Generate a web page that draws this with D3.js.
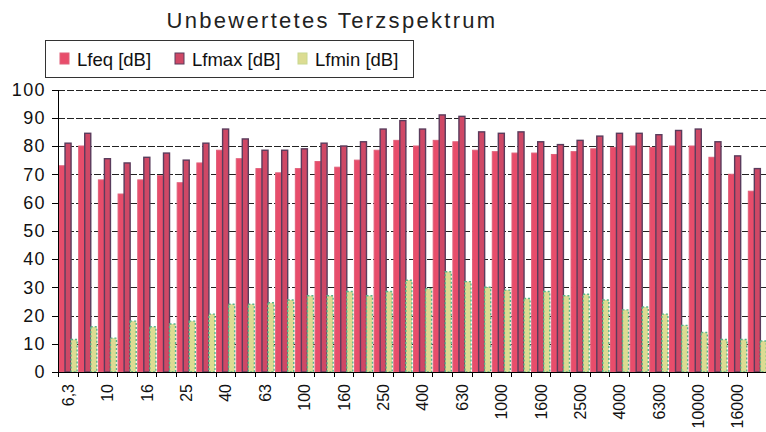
<!DOCTYPE html>
<html lang="de">
<head>
<meta charset="UTF-8">
<title>Unbewertetes Terzspektrum</title>
<script src="https://cdnjs.cloudflare.com/ajax/libs/d3/7.8.5/d3.min.js"></script>
<style>
    body { margin: 0; background: #fff; }
    svg { display: block; font-family: "Liberation Sans", Arial, sans-serif; }
    .grid line { stroke: #222; stroke-dasharray: 7 2; shape-rendering: crispEdges; }
    .axis path, .axis line { stroke: #000; shape-rendering: crispEdges; }
</style>
</head>
<body>
<script>
    // Terzbänder (Hz)
    var bands = ["6,3", "8", "10", "12,5", "16", "20", "25", "31,5", "40", "50", "63", "80",
        "100", "125", "160", "200", "250", "315", "400", "500", "630", "800", "1000", "1250",
        "1600", "2000", "2500", "3150", "4000", "5000", "6300", "8000", "10000", "12500", "16000", "20000"];

    var lfeq = [73, 80, 68, 63, 68, 69.5, 67, 74, 78.5, 75.5, 72, 70.5,
        72, 74.5, 72.5, 75, 78.5, 82, 80, 82, 81.5, 78.5, 78, 77.5,
        77.5, 77, 78, 79, 79.5, 80, 79.5, 80, 80, 76, 70, 64];

    var lfmax = [81, 84.5, 75.5, 74, 76, 77.5, 75, 81, 86, 82.5, 78.5, 78.5,
        79, 81, 80, 81.5, 86, 89, 86, 91, 90.5, 85, 84.5, 85,
        81.5, 80.5, 82, 83.5, 84.5, 84.5, 84, 85.5, 86, 81.5, 76.5, 72];

    var lfmin = [11.5, 16, 12, 18, 16, 17, 18, 20.5, 24, 24, 24.5, 25.5,
        27, 27, 28.5, 27, 28.5, 32.5, 29.5, 35.5, 32, 30, 29, 26,
        28.5, 27, 27.5, 25.5, 22, 23, 20.5, 16.5, 14, 11.5, 11.5, 11];

    var series = ["Lfeq [dB]", "Lfmax [dB]", "Lfmin [dB]"];
    var yTicks = [0, 10, 20, 30, 40, 50, 60, 70, 80, 90, 100];

    var W = 766, H = 432;
    var plot = { left: 58, right: 767, top: 89.5, bottom: 372 };

    var fills = ["#e84d6b", "#cf4866", "#dcdc92"];
    var strokes = ["#e0607a", "#5a3c5c", "#56b48c"];

    var svg = d3.select("body").append("svg")
        .attr("width", W)
        .attr("height", H);

    var x = d3.scaleBand().domain(bands).range([plot.left, plot.right]).padding(0);
    var inner = d3.scaleBand().domain(series).range([1, x.bandwidth() - 0.6]).padding(0);
    var y = d3.scaleLinear().domain([0, 100]).range([plot.bottom, plot.top]);

    // gridlines
    svg.append("g").attr("class", "grid")
        .selectAll("line")
        .data(yTicks.slice(1))
        .enter().append("line")
        .attr("x1", plot.left).attr("x2", W)
        .attr("y1", function(d) { return Math.round(y(d)) + 0.5; })
        .attr("y2", function(d) { return Math.round(y(d)) + 0.5; });

    var rows = bands.map(function(b, i) {
        return { band: b, values: [lfeq[i], lfmax[i], lfmin[i]] };
    });

    var groups = svg.append("g").selectAll("g")
        .data(rows)
        .enter().append("g")
        .attr("transform", function(d) { return "translate(" + x(d.band) + ",0)"; });

    groups.selectAll("rect")
        .data(function(d) {
            return d.values.map(function(v, k) { return { s: series[k], k: k, v: v }; });
        })
        .enter().append("rect")
        .attr("x", function(d) { return inner(d.s); })
        .attr("width", inner.bandwidth())
        .attr("y", function(d) { return y(d.v); })
        .attr("height", function(d) { return plot.bottom - y(d.v); })
        .attr("fill", function(d) { return fills[d.k]; })
        .attr("stroke", function(d) { return strokes[d.k]; })
        .attr("stroke-width", function(d) { return d.k === 0 ? 1 : 1.4; })
        .attr("stroke-dasharray", function(d) { return d.k === 2 ? "2 2" : null; });

    // y axis
    var yAxis = d3.axisLeft(y).tickValues(yTicks).tickSize(6).tickSizeOuter(0);
    svg.append("g").attr("class", "axis")
        .attr("transform", "translate(" + plot.left + ",0)")
        .call(yAxis)
        .call(function(g) {
            g.selectAll("text")
                .attr("x", -12)
                .style("font-size", "18px")
                .style("letter-spacing", "1.4px")
                .attr("fill", "#111");
        });

    // x axis line + ticks at band borders
    svg.append("line")
        .attr("x1", plot.left).attr("x2", W)
        .attr("y1", plot.bottom + 0.5).attr("y2", plot.bottom + 0.5)
        .attr("stroke", "#000");

    var borders = bands.map(function(b) { return x(b); }).concat([plot.right]);
    svg.append("g").selectAll("line")
        .data(borders)
        .enter().append("line")
        .attr("x1", function(d) { return Math.round(d) + 0.5; })
        .attr("x2", function(d) { return Math.round(d) + 0.5; })
        .attr("y1", plot.bottom).attr("y2", plot.bottom + 5)
        .attr("stroke", "#000");

    svg.append("g").selectAll("text")
        .data(bands.filter(function(b, i) { return i % 2 === 0; }))
        .enter().append("text")
        .attr("transform", function(d) {
            return "translate(" + (x(d) + x.bandwidth() / 2 + 6) + "," + (plot.bottom + 12) + ") rotate(-90)";
        })
        .attr("text-anchor", "end")
        .style("font-size", "16px")
        .attr("fill", "#111")
        .text(function(d) { return d; });

    // title
    svg.append("text")
        .attr("x", 332)
        .attr("y", 28)
        .attr("text-anchor", "middle")
        .style("font-size", "22px")
        .style("letter-spacing", "2.3px")
        .attr("fill", "#222")
        .text("Unbewertetes Terzspektrum");

    // legend
    var lg = svg.append("g").attr("transform", "translate(45,40)");
    lg.append("rect")
        .attr("x", 0.5).attr("y", 0.5)
        .attr("width", 368).attr("height", 37)
        .attr("fill", "#fff")
        .attr("stroke", "#333");

    var legX = [15, 130, 253];
    var item = lg.selectAll(".item")
        .data(series)
        .enter().append("g")
        .attr("class", "item")
        .attr("transform", function(d, i) { return "translate(" + legX[i] + ",0)"; });

    item.append("rect")
        .attr("x", 0).attr("y", 13)
        .attr("width", 9).attr("height", 11)
        .attr("fill", function(d, i) { return fills[i]; })
        .attr("stroke", function(d, i) { return i === 2 ? "#c8d890" : strokes[i]; });

    item.append("text")
        .attr("x", 17).attr("y", 26)
        .style("font-size", "18.5px")
        .attr("fill", "#111")
        .text(function(d) { return d; });
</script>
</body>
</html>
